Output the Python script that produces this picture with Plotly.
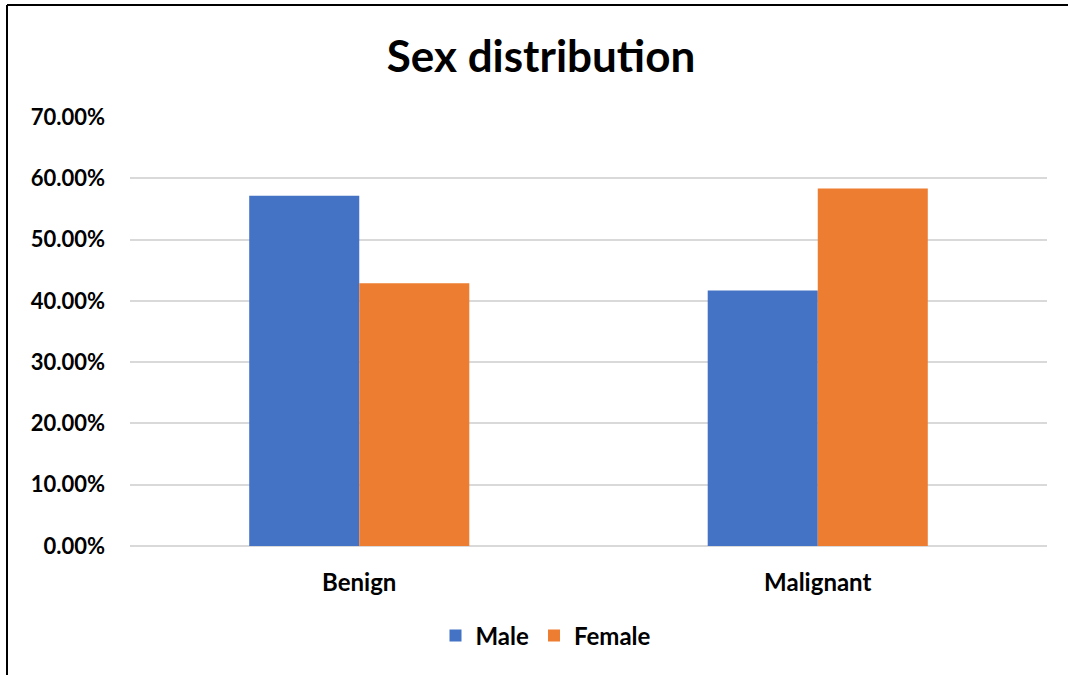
import plotly.graph_objects as go

categories = ["Benign", "Malignant"]
male = [0.5714, 0.4167]
female = [0.4286, 0.5833]
series_names = ["Male", "Female"]
colors = ["#4472C4", "#ED7D31"]

FONT = "Lato"

fig = go.Figure()
for name, vals, col in zip(series_names, [male, female], colors):
    fig.add_trace(go.Bar(x=categories, y=vals, name=name, marker_color=col,
                         marker_line_width=0))

fig.update_layout(
    width=1068, height=675,
    margin=dict(l=130, r=21, t=117, b=129),
    paper_bgcolor="white", plot_bgcolor="white",
    barmode="group", bargap=0.52, bargroupgap=0,
    font=dict(family=FONT, color="#000000"),
    title=dict(text="<b>Sex distribution</b>", x=541/1068, xanchor="center",
               y=1-57/675, yanchor="middle", yref="container", xref="container",
               font=dict(size=44, family=FONT, color="#000000")),
    legend=dict(orientation="h", x=546/1068, xanchor="center", xref="container",
                y=1-636/675, yanchor="middle", yref="container",
                font=dict(size=24, family=FONT, color="#000000", weight="bold"),
                itemwidth=30, traceorder="normal"),
    showlegend=True,
)
fig.update_xaxes(showgrid=False, showline=False, ticks="",
                 tickfont=dict(size=24, family=FONT, color="#000", weight="bold"),
                 ticklabelstandoff=20)
fig.update_yaxes(range=[0, 0.7], dtick=0.1, tickformat=".2%", showgrid=True,
                 gridcolor="#d9d9d9", gridwidth=1.5, zeroline=True, zerolinecolor="#d9d9d9",
                 zerolinewidth=1.5, showline=False, ticks="",
                 tickfont=dict(size=22, family=FONT, color="#000", weight="bold"),
                 ticklabelstandoff=24)

# chart border (left and top edges visible)
fig.add_shape(type="line", xref="paper", yref="paper",
              x0=-123/917, x1=-123/917, y0=-129/429, y1=1+112/429,
              line=dict(color="black", width=2))
fig.add_shape(type="line", xref="paper", yref="paper",
              x0=-123/917, x1=1.03, y0=1+112/429, y1=1+112/429,
              line=dict(color="black", width=2))

fig.write_html("out.html")
